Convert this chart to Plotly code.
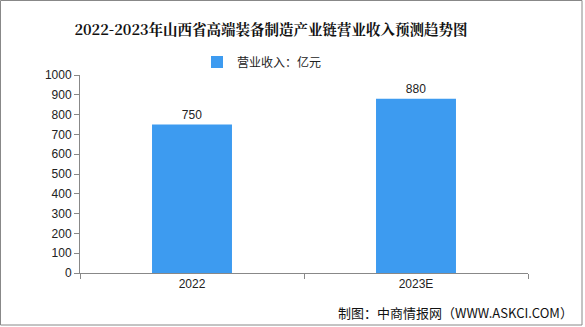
import plotly.graph_objects as go

categories = ["2022", "2023E"]
values = [750, 880]
value_labels = ["750", "880"]
series_name = "营业收入：亿元"
title = "2022-2023年山西省高端装备制造产业链营业收入预测趋势图"
source = "制图：中商情报网（WWW.ASKCI.COM）"
y_ticks = list(range(0, 1001, 100))

W, H = 585, 327
L, R, T, B = 80, 57, 75, 54
pw, ph = W - L - R, H - T - B

fig = go.Figure()
fig.add_trace(go.Bar(
    x=categories, y=values, name=series_name,
    marker=dict(color="#3d9bf0", line=dict(width=0)),
    width=0.357,
    text=value_labels, textposition="outside",
    textfont=dict(family="Liberation Sans, Arial", size=12, color="#222"),
    cliponaxis=False,
))

def px_x(p):
    return (p - L) / pw

def px_y(p):
    return (H - B - p) / ph

fig.update_layout(
    width=W, height=H,
    margin=dict(l=L, r=R, t=T, b=B),
    paper_bgcolor="white", plot_bgcolor="white",
    font=dict(family="Noto Sans CJK SC", size=12, color="#222"),
    title=dict(text="<b>" + title + "</b>", x=271 / W, xanchor="center", y=1 - 30 / H, yanchor="middle",
               xref="container",
               font=dict(family="Noto Serif CJK SC, Liberation Serif, Noto Sans CJK SC", size=14.5, color="#111")),
    showlegend=True,
    legend=dict(orientation="h", x=px_x(262), xanchor="center", y=px_y(62), yanchor="middle",
                xref="paper", yref="paper",
                font=dict(family="Noto Sans CJK SC", size=12, color="#222"),
                itemwidth=30, bgcolor="rgba(0,0,0,0)"),
    bargap=0.643,
    xaxis=dict(type="category", showline=True, linecolor="#888", linewidth=1,
               ticks="outside", tickson="boundaries", ticklen=5, tickcolor="#888",
               tickfont=dict(family="Liberation Sans, Arial", size=12, color="#222"),
               showgrid=False, zeroline=False),
    yaxis=dict(range=[0, 1000], tickvals=y_ticks, showline=True, linecolor="#888", linewidth=1,
               ticks="outside", ticklen=5, tickcolor="#888",
               tickfont=dict(family="Liberation Sans, Arial", size=12, color="#222"),
               showgrid=False, zeroline=False),
    shapes=[dict(type="rect", xref="paper", yref="paper",
                 x0=px_x(0.5), x1=px_x(582), y0=px_y(325), y1=px_y(0.5),
                 line=dict(color="#888", width=1), fillcolor="rgba(0,0,0,0)", layer="below")],
    annotations=[dict(text=source, xref="paper", yref="paper", x=px_x(575), y=px_y(312),
                      xanchor="right", yanchor="middle", showarrow=False,
                      font=dict(family="Noto Sans CJK SC", size=13, color="#111"))],
)

fig.write_html("out.html")
